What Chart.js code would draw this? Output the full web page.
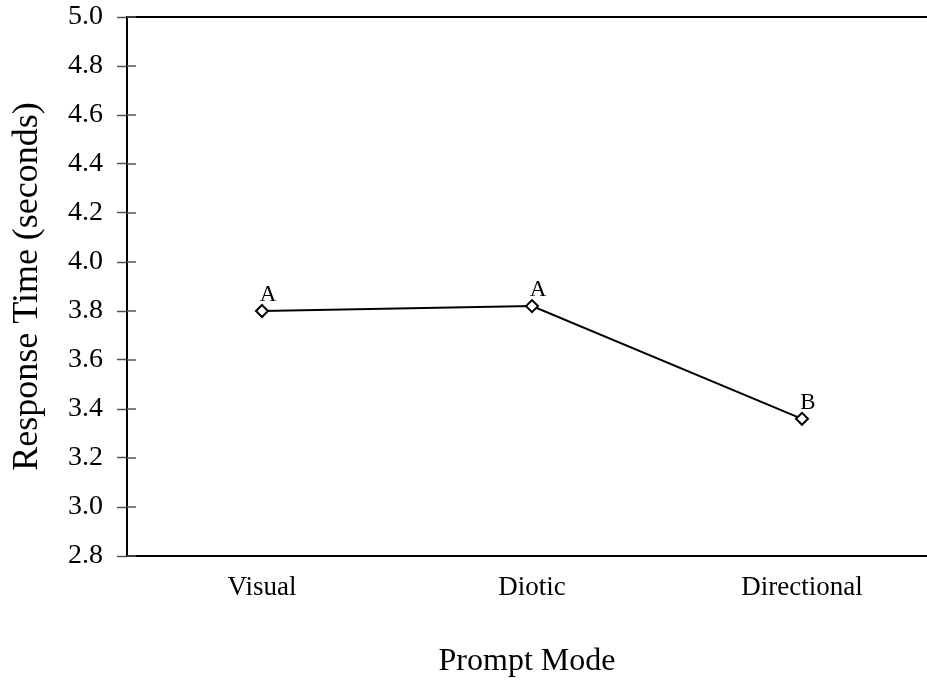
<!DOCTYPE html>
<html>
<head>
<meta charset="utf-8">
<script src="https://cdn.jsdelivr.net/npm/chart.js@4/dist/chart.umd.min.js"></script>
<style>
	html, body { margin: 0; padding: 0; background: #fff; }
	#wrap { width: 927px; height: 681px; }
</style>
</head>
<body>
<div id="wrap"><canvas id="chart"></canvas></div>
<script>
// Data
const categories = ['Visual', 'Diotic', 'Directional']
const responseTimes = [3.80, 3.82, 3.36]
const groupLetters = ['A', 'A', 'B']
const yTicks = [2.8, 3.0, 3.2, 3.4, 3.6, 3.8, 4.0, 4.2, 4.4, 4.6, 4.8, 5.0]

const serif = '"Liberation Serif", "Times New Roman", serif'

// Top line of the box plus inner half of the y tick marks
const frame = {
	id: 'frame',
	afterDraw(chart) {
		const { ctx, chartArea: a, scales } = chart
		ctx.save()
		ctx.strokeStyle = '#000'
		ctx.lineWidth = 2
		ctx.beginPath()
		ctx.moveTo(a.left, a.top)
		ctx.lineTo(a.right + 20, a.top)
		ctx.stroke()

		ctx.strokeStyle = '#555'
		ctx.lineWidth = 1.5
		scales.y.ticks.forEach(t => {
			const py = scales.y.getPixelForValue(t.value)
			ctx.beginPath()
			ctx.moveTo(a.left, py)
			ctx.lineTo(a.left + 9, py)
			ctx.stroke()
		})
		ctx.restore()
	}
}

// Letters above the points
const letters = {
	id: 'letters',
	afterDatasetsDraw(chart) {
		const { ctx } = chart
		const meta = chart.getDatasetMeta(0)
		ctx.save()
		ctx.fillStyle = '#000'
		ctx.font = '23px ' + serif
		ctx.textAlign = 'center'
		ctx.textBaseline = 'alphabetic'
		meta.data.forEach((pt, i) => {
			ctx.fillText(groupLetters[i], pt.x + 6, pt.y - 10)
		})
		ctx.restore()
	}
}

const ctx = document.getElementById('chart').getContext('2d')
new Chart(ctx, {
	type: 'line',
	data: {
		datasets: [
			{
				data: responseTimes.map((v, i) => ({ x: i + 1, y: v })),
				borderColor: '#000',
				borderWidth: 2,
				pointStyle: 'rectRot',
				pointRadius: 6,
				pointBackgroundColor: '#fff',
				pointBorderColor: '#000',
				pointBorderWidth: 2,
				tension: 0,
			},
		],
	},
	options: {
		responsive: true,
		maintainAspectRatio: false,
		animation: false,
		layout: {
			autoPadding: false,
			padding: { top: 17, right: 0, bottom: 0, left: 0 },
		},
		plugins: {
			legend: { display: false },
			tooltip: { enabled: false },
		},
		scales: {
			x: {
				type: 'linear',
				min: 0.5,
				max: 3.463,
				afterBuildTicks: scale => {
					scale.ticks = categories.map((c, i) => ({ value: i + 1 }))
				},
				afterFit: scale => {
					scale.height = 125
					scale.paddingLeft = 0
					scale.paddingRight = 0
				},
				ticks: {
					color: '#000',
					font: { family: serif, size: 27 },
					padding: 16,
					maxRotation: 0,
					callback: v => categories[v - 1],
				},
				grid: { display: false, drawTicks: false },
				border: { display: true, color: '#000', width: 2 },
				title: {
					display: true,
					text: 'Prompt Mode',
					color: '#000',
					font: { family: serif, size: 32 },
					padding: { top: 0, bottom: 0 },
				},
			},
			y: {
				min: 2.8,
				max: 5.0,
				afterBuildTicks: scale => {
					scale.ticks = yTicks.map(v => ({ value: v }))
				},
				afterFit: scale => {
					scale.width = 127
					scale.paddingTop = 0
					scale.paddingBottom = 0
				},
				ticks: {
					color: '#000',
					font: { family: serif, size: 28 },
					padding: 14,
					callback: v => v.toFixed(1),
				},
				grid: {
					drawOnChartArea: false,
					drawTicks: true,
					tickLength: 10,
					tickColor: '#555',
					tickWidth: 1.5,
				},
				border: { display: true, color: '#000', width: 2 },
				title: {
					display: true,
					text: 'Response Time (seconds)',
					color: '#000',
					font: { family: serif, size: 36 },
					padding: { top: 6, bottom: 0 },
				},
			},
		},
	},
	plugins: [frame, letters],
})
</script>
</body>
</html>
